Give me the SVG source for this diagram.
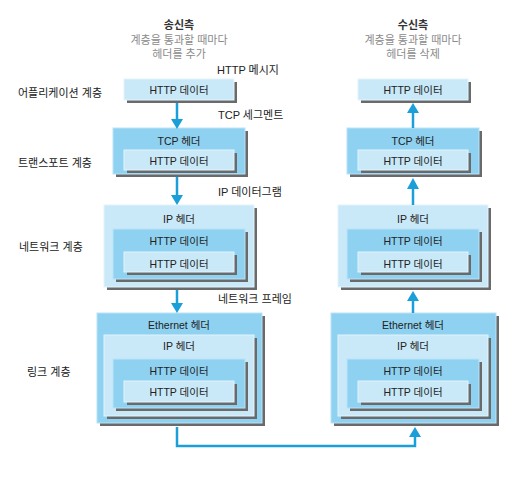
<svg xmlns="http://www.w3.org/2000/svg" width="517" height="478" viewBox="0 0 517 478">
<defs>
<style>
text{font-family:"Liberation Sans","Noto Sans CJK KR",sans-serif;font-size:10.5px;fill:#222}
.c{text-anchor:middle}
.t{font-size:11px}
.h{font-weight:bold;fill:#333}
.g{fill:#8a8a8a}
.sh{fill:#6a6a6a}
.m{fill:#8fd1f0;stroke:#b9e3f7;stroke-width:1}
.l{fill:#c9e9f8;stroke:#e2f4fc;stroke-width:1}
.ln{stroke:#1a9fd9;stroke-width:2.5;fill:none}
.ah{fill:#1a9fd9}
</style>
</defs>
<rect width="517" height="478" fill="#fff"/>

<g id="headers">
<text class="c h t" x="179" y="29">송신측</text>
<text class="c g t" x="179" y="43.5">계층을 통과할 때마다</text>
<text class="c g t" x="179" y="57.5">헤더를 추가</text>
<text class="c h t" x="413" y="29">수신측</text>
<text class="c g t" x="413" y="43.5">계층을 통과할 때마다</text>
<text class="c g t" x="413" y="57.5">헤더를 삭제</text>
</g>

<g id="layer-labels">
<text class="t" x="18" y="96.5">어플리케이션 계층</text>
<text class="t" x="18" y="167">트랜스포트 계층</text>
<text class="t" x="19" y="250.5">네트워크 계층</text>
<text class="t" x="27" y="376">링크 계층</text>
</g>

<g id="unit-labels">
<text class="t" x="217" y="74">HTTP 메시지</text>
<text class="t" x="218" y="119">TCP 세그멘트</text>
<text class="t" x="218" y="195.5">IP 데이터그램</text>
<text class="t" x="218" y="303">네트워크 프레임</text>
</g>

<g id="app-send">
<rect class="sh" x="127" y="82" width="110" height="21"/>
<rect class="l" x="124" y="79" width="110" height="21"/>
<text class="c" x="179" y="94">HTTP 데이터</text>
</g>

<g id="tcp-send">
<rect class="sh" x="116" y="131" width="132" height="46"/>
<rect class="m" x="113" y="128" width="132" height="46"/>
<text class="c" x="179" y="145">TCP 헤더</text>
<rect class="sh" x="127" y="153" width="110" height="20"/>
<rect class="l" x="124" y="150" width="110" height="20"/>
<text class="c" x="179" y="164.5">HTTP 데이터</text>
</g>

<g id="net-send">
<rect class="sh" x="107" y="208" width="150" height="82"/>
<rect class="l" x="104" y="205" width="150" height="82"/>
<text class="c" x="179" y="222.5">IP 헤더</text>
<rect class="sh" x="116" y="232" width="132" height="50"/>
<rect class="m" x="113" y="229" width="132" height="50"/>
<text class="c" x="179" y="244.5">HTTP 데이터</text>
<rect class="sh" x="127" y="255" width="110" height="20"/>
<rect class="l" x="124" y="252" width="110" height="20"/>
<text class="c" x="179" y="267.5">HTTP 데이터</text>
</g>

<g id="link-send">
<rect class="sh" x="100" y="316" width="165" height="110"/>
<rect class="m" x="97" y="313" width="165" height="110"/>
<text class="c" x="179" y="328.5">Ethernet 헤더</text>
<rect class="sh" x="107" y="338" width="150" height="81"/>
<rect class="l" x="104" y="335" width="150" height="81"/>
<text class="c" x="179" y="350">IP 헤더</text>
<rect class="sh" x="116" y="362" width="132" height="49"/>
<rect class="m" x="113" y="359" width="132" height="49"/>
<text class="c" x="179" y="375">HTTP 데이터</text>
<rect class="sh" x="127" y="384" width="110" height="21"/>
<rect class="l" x="124" y="381" width="110" height="21"/>
<text class="c" x="179" y="396">HTTP 데이터</text>
</g>

<g id="app-recv">
<rect class="sh" x="361" y="82" width="110" height="21"/>
<rect class="l" x="358" y="79" width="110" height="21"/>
<text class="c" x="413" y="94">HTTP 데이터</text>
</g>

<g id="tcp-recv">
<rect class="sh" x="350" y="131" width="132" height="46"/>
<rect class="m" x="347" y="128" width="132" height="46"/>
<text class="c" x="413" y="145">TCP 헤더</text>
<rect class="sh" x="361" y="153" width="110" height="20"/>
<rect class="l" x="358" y="150" width="110" height="20"/>
<text class="c" x="413" y="164.5">HTTP 데이터</text>
</g>

<g id="net-recv">
<rect class="sh" x="341" y="208" width="150" height="82"/>
<rect class="l" x="338" y="205" width="150" height="82"/>
<text class="c" x="413" y="222.5">IP 헤더</text>
<rect class="sh" x="350" y="232" width="132" height="50"/>
<rect class="m" x="347" y="229" width="132" height="50"/>
<text class="c" x="413" y="244.5">HTTP 데이터</text>
<rect class="sh" x="361" y="255" width="110" height="20"/>
<rect class="l" x="358" y="252" width="110" height="20"/>
<text class="c" x="413" y="267.5">HTTP 데이터</text>
</g>

<g id="link-recv">
<rect class="sh" x="334" y="316" width="165" height="110"/>
<rect class="m" x="331" y="313" width="165" height="110"/>
<text class="c" x="413" y="328.5">Ethernet 헤더</text>
<rect class="sh" x="341" y="338" width="150" height="81"/>
<rect class="l" x="338" y="335" width="150" height="81"/>
<text class="c" x="413" y="350">IP 헤더</text>
<rect class="sh" x="350" y="362" width="132" height="49"/>
<rect class="m" x="347" y="359" width="132" height="49"/>
<text class="c" x="413" y="375">HTTP 데이터</text>
<rect class="sh" x="361" y="384" width="110" height="21"/>
<rect class="l" x="358" y="381" width="110" height="21"/>
<text class="c" x="413" y="396">HTTP 데이터</text>
</g>

<g id="connectors">
<path class="ln" d="M177 103V120"/>
<polygon class="ah" points="171,119 183,119 177,129"/>
<path class="ln" d="M177 177V196"/>
<polygon class="ah" points="171,195 183,195 177,205"/>
<path class="ln" d="M177 290V304"/>
<polygon class="ah" points="171,303 183,303 177,313"/>
<path class="ln" d="M413 313V300"/>
<polygon class="ah" points="407,301 419,301 413,291"/>
<path class="ln" d="M413 205V188"/>
<polygon class="ah" points="407,189 419,189 413,178"/>
<path class="ln" d="M413 128V112"/>
<polygon class="ah" points="407,113 419,113 413,103"/>
<path class="ln" d="M177 427V446H415V436"/>
<polygon class="ah" points="409,437 421,437 415,427"/>
</g>
</svg>
